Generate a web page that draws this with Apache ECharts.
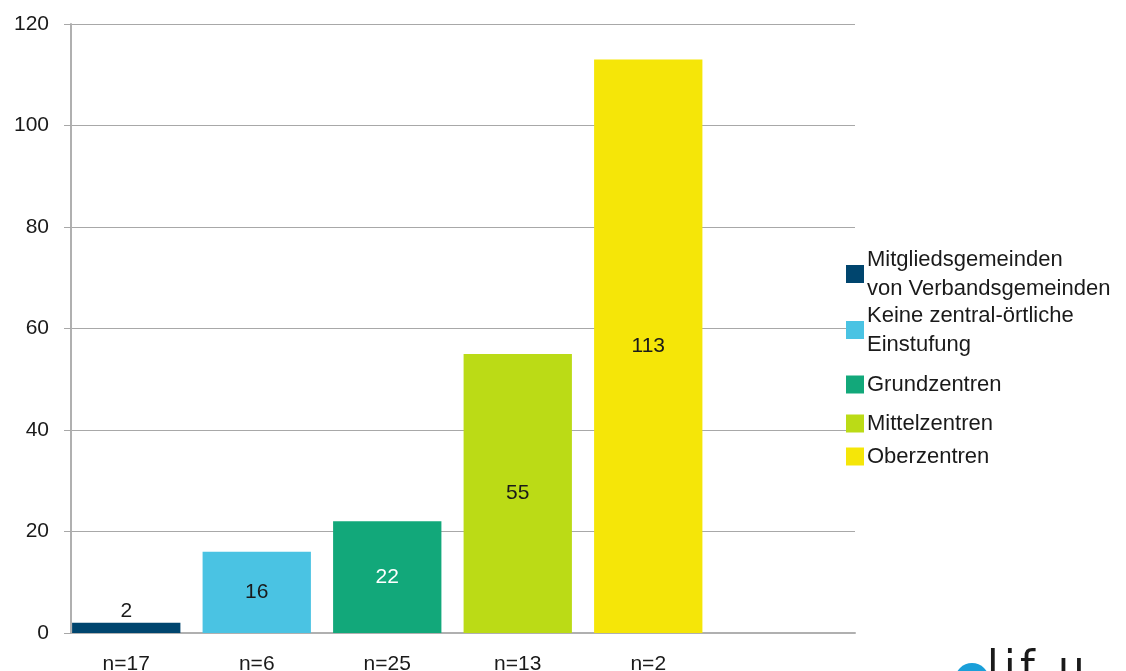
<!DOCTYPE html>
<html>
<head>
<meta charset="utf-8">
<script src="https://cdn.jsdelivr.net/npm/echarts@6/dist/echarts.min.js"></script>
<style>
  html, body { margin: 0; padding: 0; background: #fff; }
  #chart { width: 1126px; height: 671px; }
</style>
</head>
<body>
<div id="chart"></div>
<script>
var categories = ['n=17', 'n=6', 'n=25', 'n=13', 'n=2', ''];
var seriesNames = [
    'Mitgliedsgemeinden\nvon Verbandsgemeinden',
    'Keine zentral-örtliche\nEinstufung',
    'Grundzentren',
    'Mittelzentren',
    'Oberzentren'
];
var values = [2, 16, 22, 55, 113];
var yTicks = [0, 20, 40, 60, 80, 100, 120];

var palette = ['#00456e', '#4ac3e3', '#12a87a', '#bbdb16', '#f5e608'];
var legendTops = [240, 296, 365, 404, 437];

var myChart = echarts.init(document.getElementById('chart'));
var font = '"Liberation Sans", Arial, sans-serif';
var textColor = '#1a1a1a';

var series = [];
var legends = [];
for (var i = 0; i < seriesNames.length; i++) {
    var data = [];
    for (var j = 0; j < categories.length; j++) {
        data.push(j == i ? values[i] : null);
    }
    series.push({
        name: seriesNames[i],
        type: 'bar',
        stack: 'all',
        xAxisIndex: 1,
        yAxisIndex: 1,
        barWidth: '83%',
        data: data,
        itemStyle: { color: palette[i] },
        label: {
            show: true,
            position: i == 0 ? 'top' : 'inside',
            distance: 1,
            fontSize: 21,
            fontFamily: font,
            color: i == 2 ? '#ffffff' : textColor
        }
    });
    legends.push({
        data: [seriesNames[i]],
        left: 841,
        top: legendTops[i],
        orient: 'vertical',
        itemWidth: 18,
        itemHeight: 18,
        itemGap: 0,
        icon: 'rect',
        selectedMode: false,
        textStyle: { fontSize: 22, lineHeight: 29, color: textColor, fontFamily: font, padding: [0, 0, 0, -2] }
    });
}

// logo letters, spaced like the original
var logoLetters = ['l', 'i', 'f', 'u'];
var logoX = [987, 1004, 1020, 1058];
var graphics = [{ type: 'circle', shape: { cx: 972, cy: 680, r: 17 }, style: { fill: '#1a9fd9' } }];
for (var k = 0; k < logoLetters.length; k++) {
    graphics.push({ type: 'text', left: logoX[k], top: 649, style: { text: logoLetters[k], fontSize: 42, fill: textColor, fontFamily: '"DejaVu Sans", sans-serif' } });
}

var option = {
    animation: false,
    backgroundColor: '#ffffff',
    grid: [
        { left: 71, right: 271, top: 24, bottom: 38, outerBoundsMode: 'none' },
        { left: 61, right: 282, top: 24, bottom: 38, outerBoundsMode: 'none' }
    ],
    legend: legends,
    xAxis: [
        {
            type: 'category',
            gridIndex: 0,
            data: categories,
            axisLine: { lineStyle: { color: '#b0b0b0', width: 2 } },
            axisTick: { show: false },
            axisLabel: { show: false }
        },
        {
            type: 'category',
            gridIndex: 1,
            data: categories,
            axisLine: { show: false },
            axisTick: { show: false },
            axisLabel: { fontSize: 21, color: textColor, fontFamily: font, margin: 21 }
        }
    ],
    yAxis: [
        {
            type: 'value',
            gridIndex: 0,
            min: yTicks[0],
            max: yTicks[yTicks.length - 1],
            interval: 20,
            axisLine: { show: true, lineStyle: { color: '#b0b0b0', width: 2 } },
            axisTick: { show: true, length: 7, lineStyle: { color: '#a8a8a8' } },
            splitLine: { lineStyle: { color: '#a8a8a8', width: 1 } },
            axisLabel: { fontSize: 21, color: textColor, fontFamily: font, margin: 22 }
        },
        {
            type: 'value',
            gridIndex: 1,
            min: yTicks[0],
            max: yTicks[yTicks.length - 1],
            interval: 20,
            show: false
        }
    ],
    graphic: graphics,
    series: series
};

myChart.setOption(option);
</script>
</body>
</html>
